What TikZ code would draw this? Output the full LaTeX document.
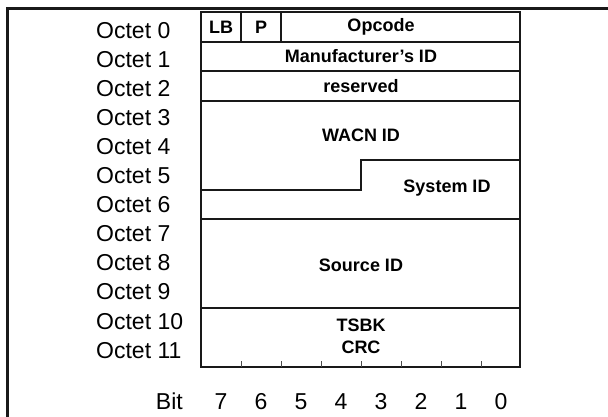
\documentclass[tikz,border=0pt]{standalone}
\usepackage{fontspec}
\setmainfont{Liberation Sans}
\usetikzlibrary{positioning}
\tikzset{
  field/.style={font=\fontsize{18}{20}\selectfont\bfseries, inner sep=0pt},
  rowlabel/.style={font=\fontsize{23}{26}\selectfont, inner sep=0pt},
  frame/.style={line width=1.8pt, black!90},
}
\begin{document}
\begin{tikzpicture}[x=1pt,y=-1pt]
\useasboundingbox (0,0) rectangle (608,416);
% outer border
\draw [line width=2.6pt, black!90] (7.5,440) -- (7.5,8.5) -- (640,8.5);
% octet labels
\foreach \k in {0,...,11} {
  \node [rowlabel, anchor=base west] (oct\k) at (96,38+29.1*\k) {Octet \k};
}
% table
\draw [frame] (201,12) rectangle (520,367);
\foreach \y in {41.6,71.2,100.8,219.2,308} {
  \draw [frame] (201,\y) -- (520,\y);
}
\draw [frame] (241,12) -- (241,41.6) (281,12) -- (281,41.6);
\draw [frame] (201,190) -- (361,190) -- (361,160) -- (520,160);
\foreach \b in {1,...,7} {
  \draw [line width=0.9pt, black!70] (201+40*\b,367) -- (201+40*\b,361);
}
% fields
\node [field] (lb)     at (221,27)  {LB};
\node [field] (p)      at (261,27)  {P};
\node [field] (opcode) at (381,27)  {Opcode};
\node [field] (manuf)  at (361,56)  {Manufacturer's ID};
\node [field] (resv)   at (361,86)  {reserved};
\node [field] (wacn)   at (361,135) {WACN ID};
\node [field] (sysid)  at (447,188) {System ID};
\node [field] (srcid)  at (361,265) {Source ID};
\node [field] (tsbk)   at (361,325) {TSBK};
\node [field] (crc)    at (361,347) {CRC};
% bit numbers
\node [rowlabel, anchor=base east] (bitlbl) at (183,409) {Bit};
\foreach \b in {0,...,7} {
  \node [rowlabel, anchor=base] (bit\b) at (501-40*\b,409) {\b};
}
\end{tikzpicture}
\end{document}
